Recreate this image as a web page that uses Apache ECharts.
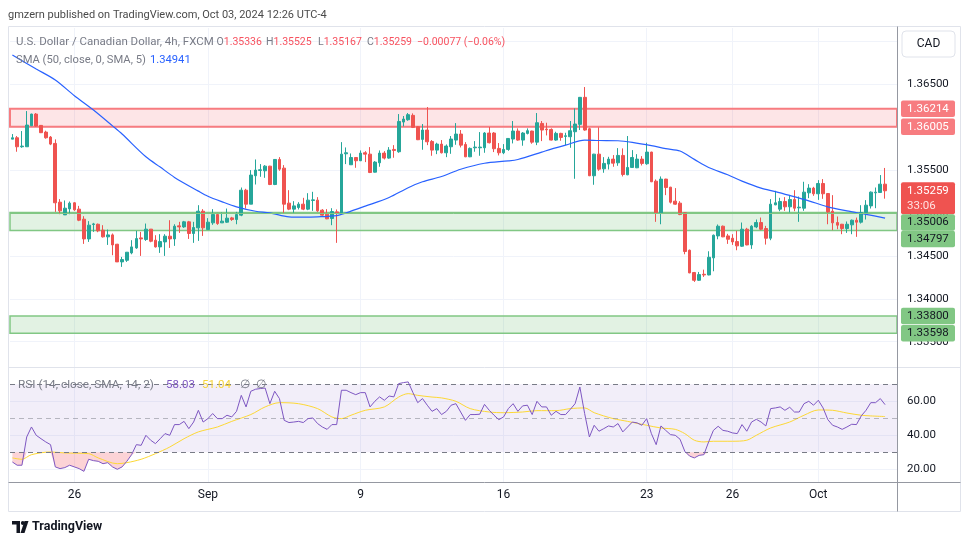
<!DOCTYPE html>
<html><head><meta charset="utf-8">
<script src="https://cdn.jsdelivr.net/npm/echarts@6/dist/echarts.min.js"></script>
<style>html,body{margin:0;padding:0;background:#fff;}#c{width:970px;height:545px;}</style>
</head><body><div id="c"></div>
<script>
// ---------- data ----------
const opens = [1.35861,1.35877,1.35772,1.35772,1.36017,1.36153,1.36021,1.35943,1.35885,1.35811,
1.35126,1.34978,1.35048,1.35119,1.35045,1.34928,1.34698,1.34866,1.34869,1.34800,
1.34722,1.34745,1.34636,1.34430,1.34449,1.34535,1.34593,1.34710,1.34691,1.34812,
1.34683,1.34605,1.34663,1.34730,1.34698,1.34850,1.34838,1.34897,1.34761,1.34827,
1.35021,1.34807,1.34885,1.34982,1.34885,1.34893,1.34943,1.34924,1.34975,1.35266,
1.35103,1.35434,1.35496,1.35492,1.35546,1.35332,1.35624,1.35523,1.35115,1.35045,
1.35064,1.35103,1.35045,1.35146,1.35150,1.35033,1.34986,1.34936,1.35013,1.34994,
1.35690,1.35562,1.35647,1.35609,1.35702,1.35686,1.35476,1.35585,1.35698,1.35640,
1.35741,1.35714,1.36060,1.36087,1.36138,1.36005,1.35858,1.35967,1.35834,1.35733,
1.35803,1.35702,1.35772,1.35850,1.35920,1.35799,1.35655,1.35760,1.35760,1.35760,
1.35932,1.35932,1.35753,1.35702,1.35741,1.35862,1.35955,1.35850,1.35928,1.35955,
1.35826,1.36044,1.35978,1.35974,1.35850,1.35928,1.35893,1.35889,1.35947,1.36033,
1.36348,1.35982,1.35434,1.35686,1.35515,1.35570,1.35628,1.35585,1.35671,1.35445,
1.35531,1.35527,1.35628,1.35574,1.35710,1.35371,1.35002,1.35395,1.35301,1.35138,
1.35115,1.35002,1.34566,1.34306,1.34216,1.34286,1.34278,1.34477,1.34733,1.34846,
1.34733,1.34706,1.34667,1.34613,1.34811,1.34628,1.34838,1.34889,1.34819,1.34706,
1.35095,1.35045,1.35134,1.35072,1.35157,1.35060,1.35056,1.35235,1.35290,1.35224,
1.35344,1.35227,1.35021,1.34889,1.34869,1.34819,1.34862,1.34916,1.34893,1.35006,
1.35083,1.35235,1.35239,1.35336];
const closes = [1.35877,1.35772,1.35780,1.36025,1.36153,1.36013,1.35936,1.35877,1.35803,1.35119,
1.35025,1.35056,1.35115,1.35037,1.34916,1.34698,1.34858,1.34873,1.34792,1.34722,
1.34745,1.34628,1.34430,1.34457,1.34543,1.34605,1.34702,1.34698,1.34812,1.34671,
1.34605,1.34667,1.34730,1.34698,1.34846,1.34838,1.34897,1.34761,1.34831,1.35021,
1.34827,1.34893,1.34982,1.34877,1.34905,1.34940,1.34924,1.34982,1.35266,1.35103,
1.35442,1.35500,1.35504,1.35546,1.35332,1.35624,1.35511,1.35103,1.35045,1.35083,
1.35103,1.35045,1.35150,1.35153,1.35025,1.34975,1.34932,1.35017,1.35002,1.35686,
1.35702,1.35647,1.35609,1.35698,1.35686,1.35472,1.35593,1.35698,1.35640,1.35733,
1.35729,1.36067,1.36095,1.36146,1.35998,1.35854,1.35967,1.35830,1.35733,1.35803,
1.35702,1.35780,1.35862,1.35920,1.35791,1.35655,1.35753,1.35768,1.35768,1.35932,
1.35819,1.35749,1.35702,1.35741,1.35869,1.35955,1.35850,1.35932,1.35959,1.35826,
1.36052,1.35967,1.35970,1.35850,1.35928,1.35881,1.35900,1.35959,1.36037,1.36348,
1.35967,1.35434,1.35686,1.35511,1.35578,1.35628,1.35581,1.35671,1.35449,1.35531,
1.35647,1.35628,1.35578,1.35710,1.35364,1.35002,1.35395,1.35297,1.35126,1.35103,
1.34982,1.34551,1.34302,1.34216,1.34282,1.34278,1.34484,1.34741,1.34846,1.34722,
1.34694,1.34663,1.34617,1.34811,1.34628,1.34846,1.34889,1.34811,1.34706,1.35103,
1.35119,1.35134,1.35072,1.35157,1.35056,1.35068,1.35243,1.35290,1.35224,1.35344,
1.35224,1.35013,1.34885,1.34858,1.34819,1.34869,1.34916,1.34893,1.35006,1.35091,
1.35243,1.35243,1.35336,1.35259];
const lows = [1.35861,1.35714,1.35760,1.35772,1.36013,1.36005,1.35932,1.35866,1.35791,1.35013,
1.34986,1.34978,1.34986,1.35025,1.34905,1.34640,1.34663,1.34780,1.34776,1.34714,
1.34628,1.34508,1.34430,1.34372,1.34430,1.34519,1.34582,1.34500,1.34675,1.34659,
1.34597,1.34535,1.34500,1.34593,1.34617,1.34768,1.34827,1.34698,1.34652,1.34675,
1.34733,1.34807,1.34862,1.34862,1.34885,1.34885,1.34908,1.34869,1.34963,1.35052,
1.35103,1.35332,1.35422,1.35410,1.35325,1.35325,1.35492,1.35002,1.35033,1.35002,
1.35041,1.35033,1.35033,1.35025,1.35013,1.34967,1.34928,1.34858,1.34652,1.34978,
1.35570,1.35562,1.35527,1.35605,1.35593,1.35465,1.35472,1.35539,1.35624,1.35632,
1.35644,1.35702,1.36009,1.36075,1.35990,1.35850,1.35737,1.35791,1.35667,1.35686,
1.35694,1.35651,1.35690,1.35795,1.35764,1.35651,1.35651,1.35714,1.35667,1.35702,
1.35811,1.35710,1.35671,1.35686,1.35725,1.35811,1.35842,1.35784,1.35916,1.35807,
1.35791,1.35838,1.35904,1.35846,1.35842,1.35842,1.35791,1.35760,1.35399,1.35967,
1.35959,1.35430,1.35329,1.35492,1.35469,1.35507,1.35539,1.35550,1.35426,1.35441,
1.35527,1.35523,1.35554,1.35562,1.35360,1.34897,1.34869,1.35208,1.35111,1.35095,
1.34975,1.34519,1.34298,1.34197,1.34208,1.34255,1.34274,1.34321,1.34694,1.34718,
1.34640,1.34628,1.34566,1.34605,1.34624,1.34582,1.34823,1.34800,1.34632,1.34683,
1.35091,1.35021,1.35025,1.35006,1.35021,1.34897,1.35025,1.35173,1.35200,1.35153,
1.35165,1.34869,1.34800,1.34811,1.34753,1.34768,1.34753,1.34722,1.34877,1.34924,
1.35052,1.35056,1.35235,1.35167];
const highs = [1.35920,1.35897,1.35955,1.36188,1.36157,1.36165,1.36025,1.35959,1.35897,1.35858,
1.35162,1.35146,1.35134,1.35126,1.35083,1.34963,1.34905,1.34885,1.34877,1.34858,
1.34807,1.34761,1.34640,1.34488,1.34543,1.34683,1.34792,1.34780,1.34877,1.34812,
1.34741,1.34753,1.34753,1.34916,1.34869,1.34897,1.34908,1.34908,1.34897,1.35091,
1.35045,1.34940,1.35045,1.35002,1.35006,1.35052,1.34955,1.35013,1.35297,1.35282,
1.35500,1.35624,1.35570,1.35558,1.35550,1.35628,1.35651,1.35558,1.35266,1.35138,
1.35126,1.35177,1.35231,1.35247,1.35185,1.35045,1.35045,1.35056,1.35041,1.35826,
1.35764,1.35694,1.35650,1.35729,1.35721,1.35768,1.35605,1.35729,1.35721,1.35768,
1.35791,1.36153,1.36130,1.36165,1.36161,1.36013,1.36037,1.36235,1.35850,1.35819,
1.35850,1.35799,1.35897,1.36048,1.35967,1.35826,1.35764,1.35838,1.35943,1.35943,
1.36002,1.35943,1.35815,1.35803,1.35873,1.36072,1.35986,1.35943,1.35986,1.35959,
1.36165,1.36072,1.36052,1.35986,1.35947,1.35935,1.35935,1.36072,1.36219,1.36352,
1.36468,1.35994,1.35690,1.35998,1.35651,1.35655,1.35675,1.35756,1.35753,1.35897,
1.35733,1.35686,1.35663,1.35819,1.35714,1.35391,1.35426,1.35399,1.35305,1.35290,
1.35138,1.35006,1.34574,1.34313,1.34313,1.34340,1.34554,1.34749,1.34866,1.34854,
1.34757,1.34753,1.34792,1.34889,1.34827,1.34858,1.34924,1.34947,1.34850,1.35162,
1.35259,1.35177,1.35185,1.35208,1.35266,1.35192,1.35364,1.35336,1.35305,1.35383,
1.35395,1.35231,1.35208,1.34959,1.34873,1.34901,1.34924,1.34947,1.35091,1.35150,
1.35251,1.35297,1.35442,1.35525];

// SMA(50) read at sparse candle positions
const smaIdx = [0,5,9,13,17,21,23,28,31,34,39,41,44,47,51,54,58,61,64,68,70,74,79,83,86,90,94,99,104,106,111,113,116,120,123,127,130,134,137,140,143,146,150,153,157,160,163,167,171,175,179,183];
const smaVals = [1.36842,1.36678,1.36550,1.36367,1.36200,1.36015,1.35920,1.35655,1.35535,1.35415,1.35255,1.35195,1.35130,1.35072,1.35020,1.35002,1.34955,1.34951,1.34955,1.34970,1.35002,1.35080,1.35181,1.35295,1.35364,1.35425,1.35510,1.35580,1.35607,1.35624,1.35710,1.35745,1.35791,1.35850,1.35845,1.35842,1.35823,1.35785,1.35750,1.35722,1.35625,1.35531,1.35445,1.35371,1.35290,1.35250,1.35205,1.35142,1.35072,1.35025,1.34985,1.34941];

// RSI(14), one value per candle
const rsiVals = [24.3,22.4,22.4,39.0,44.9,40.0,38.0,36.1,34.5,21.4,
20.4,21.0,22.4,21.4,20.4,18.8,25.9,25.1,24.7,23.3,
23.9,21.4,20.0,21.4,24.7,28.6,34.5,34.1,40.0,37.1,
35.1,38.0,41.0,40.0,46.3,46.3,48.2,43.9,47.8,54.7,
47.8,49.8,52.8,49.8,49.8,51.8,50.8,54.1,63.5,56.7,
65.9,67.1,67.5,67.8,58.6,65.9,61.6,48.8,47.5,47.8,
48.2,47.5,49.8,50.2,46.9,44.9,43.5,46.3,46.3,66.5,
66.5,65.1,63.9,65.1,65.1,56.7,60.0,62.6,60.6,63.1,
62.6,70.4,71.0,71.4,65.1,59.2,61.6,57.7,54.1,55.7,
52.2,54.1,57.7,58.6,53.7,48.8,52.2,52.2,52.4,58.2,
54.7,51.8,49.2,50.8,55.7,58.6,54.1,57.3,57.7,52.2,
60.0,56.7,56.7,51.8,54.1,52.2,52.2,55.3,58.6,68.4,
52.8,39.0,45.9,42.4,43.9,45.5,44.9,46.9,42.0,44.9,
47.8,47.3,45.9,49.8,41.0,34.5,45.5,42.9,40.4,40.0,
37.7,30.6,27.8,26.7,28.2,28.6,36.1,42.9,45.3,42.9,
42.4,41.4,41.0,46.3,42.4,47.8,49.4,47.8,45.5,55.7,
56.1,56.7,54.7,56.5,53.7,53.7,58.6,60.0,57.7,60.6,
56.1,49.2,45.9,44.9,43.5,44.9,46.5,46.3,51.4,54.7,
59.2,59.2,61.6,58.03];

// RSI-based SMA(14) read at sparse candle positions
const rsiSmaIdx = [0,2,4,8,11,16,18,22,24,27,30,33,36,39,43,46,50,53,56,60,64,67,69,71,74,78,81,83,85,88,90,93,96,100,103,107,110,114,117,120,122,126,129,133,136,139,141,143,145,147,151,154,156,159,163,166,169,172,175,178,180,183];
const rsiSmaVals = [26.7,25.9,28.6,30.2,29.6,29.2,26.7,23.3,23.9,25.9,29.2,33.1,38.0,42.0,44.9,48.2,52.2,56.7,59.2,58.6,55.7,50.8,49.8,51.8,54.7,56.7,62.5,64.5,63.5,62.5,62.0,60.0,55.7,53.7,53.3,53.7,54.5,54.5,55.7,56.1,53.3,49.8,48.2,45.9,44.3,43.5,41.0,37.1,36.1,36.5,36.5,37.1,40.0,44.3,47.8,51.8,54.9,54.7,53.1,51.8,51.4,51.04];

const tickIdx = [13,41,73,103,133,151,169];
const tickLabels = ['26','Sep','9','16','23','26','Oct'];

const redZone = [1.36005, 1.36214];
const greenZone = [1.34797, 1.35006];
const greenInnerLine = 1.34982;
const lowZone = [1.33598, 1.33800];
const lastPrice = 1.35259;
const lastOHLC = ['1.35336','1.35525','1.35167','1.35259'];
const changeText = '\u22120.00077 (\u22120.06%)';
const smaLast = '1.34941';
const rsiLast = '58.03';
const rsiSmaLast = '51.04';
const countdown = '33:06';
const rsiOversold = 30;

// ---------- chart ----------
const FONT = 'Roboto, "Noto Sans", sans-serif';
const N = 186;                       // 184 candles + 2 empty right-margin slots
const categories = [];
for (let i = 0; i < N; i++) categories.push(String(i));
const candleData = opens.map((o, i) => [o, closes[i], lows[i], highs[i]]);
const PL = 10, PR = 897, PW = PR - PL, step = PW / N;
const isTick = (i) => tickIdx.indexOf(i) >= 0;

// oversold fill: drawn as a stacked band between the RSI line and the 30 level
const pinkBase = rsiVals.map((v) => Math.min(v, rsiOversold));
const pinkBand = rsiVals.map((v) => rsiOversold - Math.min(v, rsiOversold));

const option = {
  animation: false,
  backgroundColor: '#ffffff',
  textStyle: { fontFamily: FONT },
  grid: [
    { left: PL, right: 970 - PR, top: 41.4, height: 300.3, containLabel: false, outerBoundsMode: 'none' },
    { left: PL, right: 970 - PR, top: 367.3, height: 136, containLabel: false, outerBoundsMode: 'none' },
    { left: PL + step / 2, width: (N - 1) * step, top: 28, height: 455, containLabel: false, outerBoundsMode: 'none' }
  ],
  xAxis: [
    { type: 'category', gridIndex: 0, data: categories, boundaryGap: true, show: false },
    { type: 'category', gridIndex: 1, data: categories, boundaryGap: true, show: false },
    { type: 'category', gridIndex: 2, data: categories, boundaryGap: false,
      axisLine: { show: false }, axisTick: { show: false },
      axisLabel: { interval: (i) => isTick(i), formatter: (v) => { const k = tickIdx.indexOf(+v); return k >= 0 ? tickLabels[k] : ''; },
                   color: '#131722', fontSize: 12, margin: 6, fontFamily: FONT },
      splitLine: { show: true, interval: (i) => isTick(i), lineStyle: { color: '#F0F3FA', width: 1 } } }
  ],
  yAxis: [
    { type: 'value', gridIndex: 0, position: 'right', min: 1.335, max: 1.370, interval: 0.005,
      axisLine: { show: false }, axisTick: { show: false },
      axisLabel: { formatter: (v) => (v > 1.3675 ? '' : v.toFixed(5)), color: '#131722', fontSize: 11.5, margin: 10, fontFamily: FONT },
      splitLine: { lineStyle: { color: '#F0F3FA' } } },
    { type: 'value', gridIndex: 1, position: 'right', min: 0, max: 80, interval: 20,
      axisLine: { show: false }, axisTick: { show: false },
      axisLabel: { formatter: (v) => ((v >= 20 && v <= 60) ? v.toFixed(2) : ''), color: '#131722', fontSize: 11.5, margin: 10, fontFamily: FONT },
      splitLine: { lineStyle: { color: ['rgba(0,0,0,0)', '#F0F3FA', '#F0F3FA', '#F0F3FA', 'rgba(0,0,0,0)'] } } },
    { type: 'value', gridIndex: 2, show: false, splitLine: { show: false } }
  ],
  series: [
    { type: 'candlestick', xAxisIndex: 0, yAxisIndex: 0, data: candleData, barWidth: '68%',
      itemStyle: { color: '#26A69A', color0: '#EF5350', borderColor: '#26A69A', borderColor0: '#EF5350', borderWidth: 1 },
      markArea: { silent: true, data: [
        [{ yAxis: redZone[1], itemStyle: { color: 'rgba(242,54,69,0.13)', borderColor: '#F77C80', borderWidth: 2 } }, { yAxis: redZone[0] }],
        [{ yAxis: greenZone[1], itemStyle: { color: 'rgba(76,175,80,0.16)', borderColor: '#81C784', borderWidth: 1.5 } }, { yAxis: greenZone[0] }],
        [{ yAxis: lowZone[1], itemStyle: { color: 'rgba(76,175,80,0.16)', borderColor: '#81C784', borderWidth: 1.5 } }, { yAxis: lowZone[0] }]
      ] },
      markLine: { silent: true, symbol: ['none', 'none'], label: { show: false }, data: [
        { yAxis: lastPrice, lineStyle: { type: 'dotted', color: '#EF5350', width: 1 } },
        { yAxis: greenInnerLine, lineStyle: { type: 'solid', color: '#81C784', width: 1 } }
      ] } },
    { type: 'line', xAxisIndex: 0, yAxisIndex: 0, data: smaIdx.map((x, k) => [x, smaVals[k]]),
      showSymbol: false, smooth: 0.3, lineStyle: { color: '#2962FF', width: 1.2 }, z: 4, silent: true },
    { type: 'line', xAxisIndex: 1, yAxisIndex: 1, data: pinkBase, stack: 'os', showSymbol: false,
      lineStyle: { width: 0, opacity: 0 }, z: 2, silent: true },
    { type: 'line', xAxisIndex: 1, yAxisIndex: 1, data: pinkBand, stack: 'os', showSymbol: false,
      lineStyle: { width: 0, opacity: 0 }, areaStyle: { color: 'rgba(242,54,69,0.22)', opacity: 1 }, z: 2, silent: true },
    { type: 'line', xAxisIndex: 1, yAxisIndex: 1, data: rsiVals, showSymbol: false,
      lineStyle: { color: '#7E57C2', width: 1 }, z: 5, silent: true,
      markArea: { silent: true, itemStyle: { color: 'rgba(126,87,194,0.1)' }, data: [[{ yAxis: 70 }, { yAxis: 30 }]] },
      markLine: { silent: true, symbol: ['none', 'none'], label: { show: false },
        lineStyle: { type: [5, 4], color: '#787B86', width: 1 },
        data: [{ yAxis: 70 }, { yAxis: 50, lineStyle: { color: 'rgba(120,123,134,0.5)', type: [5, 4] } }, { yAxis: 30 }] } },
    { type: 'line', xAxisIndex: 1, yAxisIndex: 1, data: rsiSmaIdx.map((x, k) => [x, rsiSmaVals[k]]),
      showSymbol: false, smooth: 0.3, lineStyle: { color: '#FDD835', width: 1 }, z: 4, silent: true },
    { type: 'line', xAxisIndex: 2, yAxisIndex: 2, data: [] }
  ]
};

const chart = echarts.init(document.getElementById('c'), null, { renderer: 'canvas' });
chart.setOption(option);

// ---------- overlays (positions from the library's own scales) ----------
const py = (v) => chart.convertToPixel({ yAxisIndex: 0 }, v);
const g = [];
const txt = (x, y, text, fill, size, extra, weight, align) => g.push(Object.assign({ type: 'text', z: 100, silent: true,
  style: { x: x, y: y, text: text, fill: fill, font: (weight ? weight + ' ' : '') + (size || 11) + 'px ' + FONT, verticalAlign: 'middle', align: align || 'left' } }, extra || {}));
const line = (x1, y1, x2, y2, color, w, z) => g.push({ type: 'line', z: z || 90, silent: true,
  shape: { x1: x1, y1: y1, x2: x2, y2: y2 }, style: { stroke: color, lineWidth: w || 1 } });

// frame and pane separators
g.push({ type: 'rect', z: 80, silent: true, shape: { x: 8.5, y: 26.5, width: 952, height: 485 }, style: { fill: 'none', stroke: '#E0E3EB', lineWidth: 1 } });
line(8.5, 367.5, 960.5, 367.5, '#E0E3EB', 1);
line(8.5, 482.5, 960.5, 482.5, '#9598A1', 1);
line(897.5, 26.5, 897.5, 511.5, '#9598A1', 1);

// header & legends
txt(8, 15, 'gmzern published on TradingView.com, Oct 03, 2024 12:26 UTC-4', '#4A4A4A', 11);
const gray = '#787B86', red = '#F7525F';
const VF = 10.5;
txt(16, 42.5, 'U.S. Dollar / Canadian Dollar, 4h, FXCM', gray, 11.5);
const ohlcX = [216.5, 266, 318, 367], ohlcL = ['O', 'H', 'L', 'C'];
for (let k = 0; k < 4; k++) {
  g.push({ type: 'text', z: 100, silent: true, style: { x: ohlcX[k], y: 42.5, verticalAlign: 'middle', font: VF + 'px ' + FONT,
    text: '{a|' + ohlcL[k] + '}{b|' + lastOHLC[k] + '}', rich: { a: { fill: gray, font: VF + 'px ' + FONT }, b: { fill: red, font: VF + 'px ' + FONT } } } });
}
txt(417, 42.5, changeText, red, VF);
txt(16, 60, 'SMA (50, close, 0, SMA, 5)', gray, 11.2);
txt(150, 60, smaLast, '#2962FF', 11.2);
txt(18, 385.5, 'RSI (14, close, SMA, 14, 2)', gray, 11.8);
txt(166, 385.5, rsiLast, '#7E57C2', 11.5);
txt(202, 385.5, rsiSmaLast, '#F5D33A', 11.5);
txt(240, 385.5, '\u2205  \u2205', gray, 11.5);

// CAD button
g.push({ type: 'rect', z: 100, silent: true, shape: { x: 902, y: 31, width: 53, height: 26, r: 4 }, style: { fill: '#fff', stroke: '#E0E3EB', lineWidth: 1 } });
txt(928.5, 44, 'CAD', '#131722', 12, null, null, 'center');

// price tags on the right scale
const tag = (top, h, text, bg, fg) => {
  g.push({ type: 'rect', z: 110, silent: true, shape: { x: 901, y: top, width: 54, height: h, r: 2 }, style: { fill: bg } });
  txt(907, top + h / 2, text, fg, 11.5, { z: 111 });
};
const H = 16.5;
tag(py(redZone[1]) - H / 2, H, redZone[1].toFixed(5), '#F77C80', '#fff');
tag(py(redZone[0]) - H / 2, H, redZone[0].toFixed(5), '#F77C80', '#fff');
const lpTop = py(lastPrice) - 8.5;
g.push({ type: 'rect', z: 110, silent: true, shape: { x: 901, y: lpTop, width: 54, height: 32, r: 2 }, style: { fill: '#EF5350' } });
txt(907, lpTop + 8.5, lastPrice.toFixed(5), '#fff', 11.5, { z: 111 });
txt(907, lpTop + 23.5, countdown, '#FFE1E1', 11.5, { z: 111 });
const g1 = Math.max(py(greenZone[1]) - H / 2, lpTop + 32);
tag(g1, H, greenZone[1].toFixed(5), '#81C784', '#131722');
const g2 = Math.max(py(greenZone[0]) - H / 2, g1 + H);
tag(g2, H, greenZone[0].toFixed(5), '#81C784', '#131722');
tag(py(lowZone[1]) - H / 2, H, lowZone[1].toFixed(5), '#81C784', '#131722');
tag(py(lowZone[0]) - H / 2, H, lowZone[0].toFixed(5), '#81C784', '#131722');

// TradingView logo
g.push({ type: 'polygon', z: 100, silent: true, shape: { points: [[12, 521], [20, 521], [20, 533], [16.5, 533], [16.5, 524.5], [12, 524.5]] }, style: { fill: '#131722' } });
g.push({ type: 'circle', z: 100, silent: true, shape: { cx: 22.8, cy: 523, r: 1.9 }, style: { fill: '#131722' } });
g.push({ type: 'polygon', z: 100, silent: true, shape: { points: [[24.5, 521], [28.5, 521], [24.5, 533], [20.5, 533]] }, style: { fill: '#131722' } });
txt(32, 527, 'TradingView', '#131722', 12.5, null, 'bold');

chart.setOption({ graphic: g });
</script>
</body></html>
